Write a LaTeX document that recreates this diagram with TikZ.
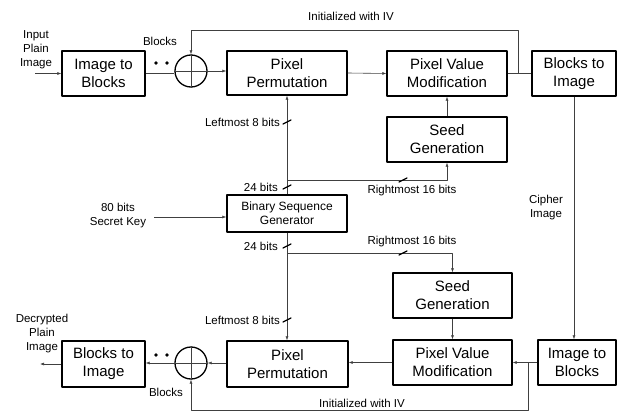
\documentclass[tikz,border=0pt]{standalone}
\usepackage{fontspec}
\setmainfont{Liberation Sans}
\usetikzlibrary{arrows.meta,positioning}

\tikzset{
  blk/.style={draw,line width=1.3pt,inner sep=0pt,align=center,font=\fontsize{15}{18}\selectfont},
  xorc/.style={draw,circle,line width=1.3pt,minimum size=32pt,inner sep=0pt},
  lbl/.style={align=center,font=\fontsize{11.5}{14}\selectfont},
  con/.style={draw=black!75,line width=0.6pt},
  arr/.style={con,-{Latex[length=4pt,width=3pt]}},
  bus/.style={line width=1.3pt,line cap=round},
}
\newcommand{\busmark}[1]{\draw[bus] ($(#1)+(-4,2)$) -- ($(#1)+(4,-2)$);}
\usetikzlibrary{calc}

\begin{document}
\begin{tikzpicture}[x=1pt,y=-1pt,line join=round]
  \useasboundingbox (0,0) rectangle (619,412);
  % encryption
  \node[blk,minimum width=83pt,minimum height=45pt] (itbA) at (103.5,73.5) {Image to\\Blocks};
  \node[xorc] (xA) at (191,71) {};
  \node[blk,minimum width=120pt,minimum height=44pt] (ppA) at (287,73) {Pixel\\Permutation};
  \node[blk,minimum width=120pt,minimum height=45pt] (pvmA) at (447,73.5) {Pixel Value\\Modification};
  \node[blk,minimum width=84pt,minimum height=45pt] (btiA) at (574,73.5) {Blocks to\\Image};
  \node[blk,minimum width=120pt,minimum height=45pt] (sgA) at (447,139.5) {Seed\\Generation};
  \node[blk,minimum width=120pt,minimum height=37pt,font=\fontsize{12}{14}\selectfont] (bsg) at (287,213.5) {Binary Sequence\\Generator};
  % decryption
  \node[blk,minimum width=119pt,minimum height=45pt] (sgB) at (452.5,295.5) {Seed\\Generation};
  \node[blk,minimum width=119pt,minimum height=45pt] (pvmB) at (452.5,362.5) {Pixel Value\\Modification};
  \node[blk,minimum width=78pt,minimum height=45pt] (itbB) at (577,362.5) {Image to\\Blocks};
  \node[blk,minimum width=121pt,minimum height=46pt] (ppB) at (287.5,364) {Pixel\\Permutation};
  \node[xorc] (xB) at (191,363) {};
  \node[blk,minimum width=83pt,minimum height=46pt] (btiB) at (103.5,364) {Blocks to\\Image};

  \draw[con] (xA.north) -- (xA.south) (xA.west) -- (xA.east);
  \draw[con] (xB.north) -- (xB.south) (xB.west) -- (xB.east);
  \fill (156,63) circle (1.8) (167,63) circle (1.8);
  \fill (156,355) circle (1.8) (167,355) circle (1.8);

  \coordinate (in) at (35,73.5);
  \coordinate (out) at (40,364);
  \coordinate (fbA) at (518,73);
  \coordinate (fbB) at (528,362.5);
  \coordinate (kA) at (287,180);
  \coordinate (kB) at (287,253);
  \coordinate (key) at (154,217);

  \draw[arr] (in) -- (itbA.west);
  \draw[con] (itbA.east) -- (itbA.east -| xA.west);
  \draw[arr] (xA.east) -- (ppA.west |- xA.east);
  \draw[arr] (ppA.east) -- (pvmA.west);
  \draw[con] (pvmA.east) -- (btiA.west);
  \draw[arr] (fbA) -- (518,30) -| (xA.north);
  \draw[arr] (sgA.north) -- (pvmA.south);
  \draw[arr] (bsg.north) -- (ppA.south);
  \draw[arr] (kA) -| (sgA.south);
  \draw[arr] (key) -- (key -| bsg.west);
  \draw[arr] (bsg.south) -- (ppB.north -| bsg.south);
  \draw[arr] (kB) -| (sgB.north);
  \draw[arr] (btiA.south) -- (btiA.south |- itbB.north);
  \draw[arr] (sgB.south) -- (pvmB.north);
  \draw[arr] (itbB.west) -- (pvmB.east);
  \draw[arr] (pvmB.west) -- (pvmB.west -| ppB.east);
  \draw[arr] (ppB.west |- xB.east) -- (xB.east);
  \draw[arr] (xB.west) -- (xB.west -| btiB.east);
  \draw[arr] (btiB.west) -- (out);
  \draw[arr] (fbB) -- (528,410) -| (xB.south);

  \busmark{287,122}
  \busmark{287,187}
  \busmark{287,246}
  \busmark{287,320}
  \busmark{403,180}
  \busmark{403,253}

  \node[lbl] at (36,50) {Input\\Plain\\Image};
  \node[lbl] at (160,41) {Blocks};
  \node[lbl] at (351,16) {Initialized with IV};
  \node[lbl,anchor=east,inner sep=0pt] at (280,122) {Leftmost 8 bits};
  \node[lbl,anchor=east,inner sep=0pt] at (278,187) {24 bits};
  \node[lbl] at (118,216) {80 bits\\Secret Key};
  \node[lbl] at (412,191) {Rightmost 16 bits};
  \node[lbl,anchor=east,inner sep=0pt] at (278,246) {24 bits};
  \node[lbl] at (412,242) {Rightmost 16 bits};
  \node[lbl] at (546,208) {Cipher\\Image};
  \node[lbl] at (42,334) {Decrypted\\Plain\\Image};
  \node[lbl,anchor=east,inner sep=0pt] at (280,320) {Leftmost 8 bits};
  \node[lbl] at (166,392) {Blocks};
  \node[lbl] at (362,403) {Initialized with IV};
\end{tikzpicture}
\end{document}
